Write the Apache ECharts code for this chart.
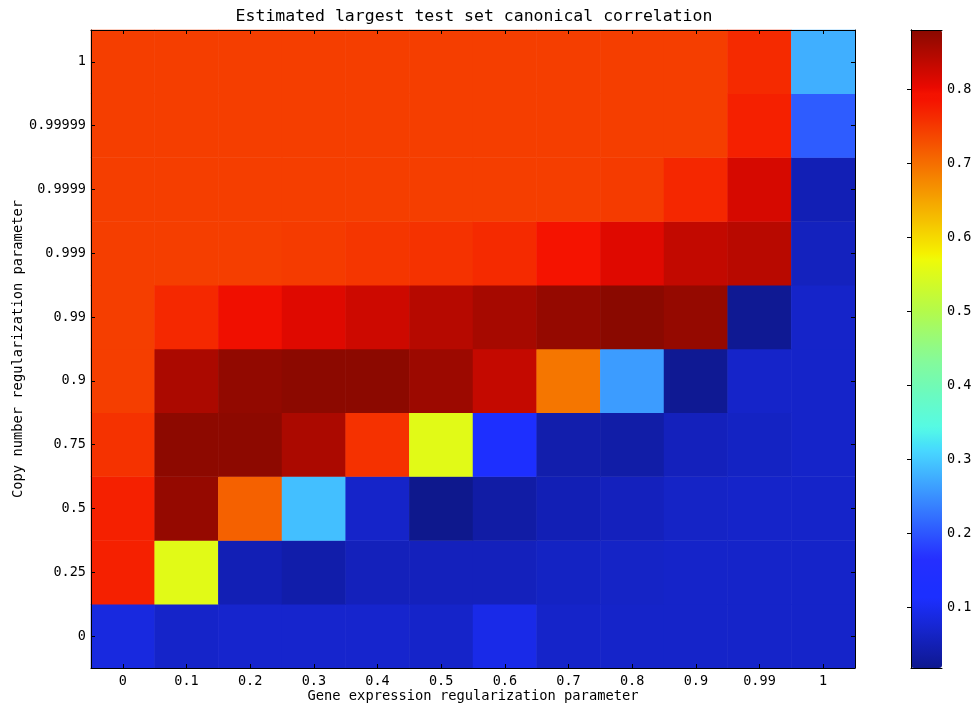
<!DOCTYPE html>
<html>
<head>
<meta charset="utf-8">
<script src="https://cdn.jsdelivr.net/npm/echarts@6/dist/echarts.min.js"></script>
<style>
html,body{margin:0;padding:0;background:#fff;}
#chart{width:973px;height:704px;}
</style>
</head>
<body>
<div id="chart"></div>
<script>
// Categories
const xLabels = ['0','0.1','0.2','0.3','0.4','0.5','0.6','0.7','0.8','0.9','0.99','1'];
const yLabels = ['0','0.25','0.5','0.75','0.9','0.99','0.999','0.9999','0.99999','1'];

// Values per copy-number parameter row (columns follow xLabels)
const row_0       = [0.085,0.066,0.070,0.070,0.070,0.066,0.093,0.066,0.066,0.066,0.066,0.066];
const row_0_25    = [0.772,0.555,0.050,0.040,0.055,0.056,0.056,0.062,0.064,0.066,0.066,0.066];
const row_0_5     = [0.772,0.871,0.712,0.290,0.066,0.018,0.036,0.050,0.057,0.064,0.066,0.066];
const row_0_75    = [0.756,0.877,0.877,0.853,0.757,0.555,0.130,0.042,0.038,0.056,0.062,0.066];
const row_0_9     = [0.745,0.853,0.873,0.878,0.878,0.865,0.833,0.693,0.260,0.022,0.066,0.066];
const row_0_99    = [0.745,0.765,0.797,0.811,0.826,0.844,0.857,0.871,0.880,0.871,0.022,0.066];
const row_0_999   = [0.745,0.745,0.745,0.748,0.752,0.756,0.764,0.785,0.811,0.834,0.843,0.058];
const row_0_9999  = [0.745,0.745,0.745,0.745,0.745,0.745,0.745,0.745,0.748,0.766,0.818,0.050];
const row_0_99999 = [0.745,0.745,0.745,0.745,0.745,0.745,0.745,0.745,0.745,0.745,0.772,0.205];
const row_1       = [0.745,0.745,0.745,0.745,0.745,0.745,0.745,0.745,0.745,0.745,0.764,0.277];

const colorbarTicks = [0.1,0.2,0.3,0.4,0.5,0.6,0.7,0.8];
const vMin = 0.018, vMax = 0.88;

const rows = [row_0,row_0_25,row_0_5,row_0_75,row_0_9,row_0_99,row_0_999,row_0_9999,row_0_99999,row_1];
const data = [];
rows.forEach((r, yi) => r.forEach((v, xi) => data.push([xi, yi, v])));

// "jet"-like colormap, tuned toward the reference rendering
function interp(t, xs, ys){
  for (let i = 1; i < xs.length; i++) {
    if (t <= xs[i]) { const f = (t - xs[i-1]) / (xs[i] - xs[i-1]); return ys[i-1] + f * (ys[i] - ys[i-1]); }
  }
  return ys[ys.length-1];
}
function jet(t){
  const r = interp(t,[0,0.35,0.66,0.89,1],[0,0,1,1,0.54]);
  const g = interp(t,[0,0.125,0.375,0.64,0.91,1],[0,0,1,1,0,0]);
  const b = interp(t,[0,0.11,0.34,0.65,1],[0.5,1,1,0,0]);
  const r2 = Math.min(r, 0.96) + (1 - r) * (0.11 * b + 0.2 * g * b);
  const g2 = Math.max(g, 0.19 * b) * 0.98 + (r > 0.5 && g < 0.05 ? 0.035 : 0);
  const b2 = b + 0.13 * (1 - b) * Math.max(0, Math.min(1, (b - 0.3) * 4));
  const h = x => Math.round(Math.max(0, Math.min(1, x)) * 255).toString(16).padStart(2,'0');
  return '#' + h(r2) + h(g2) + h(b2);
}
const jetColors = [];
for (let i = 0; i <= 200; i++) jetColors.push(jet(i/200));

const mono = 'DejaVu Sans Mono';
const black = '#000';

const chart = echarts.init(document.getElementById('chart'), null, {renderer:'canvas'});
chart.setOption({
  animation: false,
  backgroundColor: '#fff',
  graphic: [{
    type: 'text', x: 474, y: 17, z: 100,
    style: { text: 'Estimated largest test set canonical correlation', fontFamily: mono, fontSize: 16.5, fill: black, align: 'center', verticalAlign: 'middle' }
  }],
  grid: [
    { left: 91, top: 30, width: 764, height: 638, outerBoundsMode: 'none', containLabel: false },
    { left: 911, top: 30, width: 31, height: 638, outerBoundsMode: 'none', containLabel: false }
  ],
  xAxis: [
    { type: 'category', gridIndex: 0, data: xLabels, position: 'bottom', z: 10,
      axisLine: { show: true, lineStyle: { color: black, width: 1 } },
      axisTick: { show: true, inside: true, alignWithLabel: true, length: 4, lineStyle: { color: black } },
      axisLabel: { fontFamily: mono, fontSize: 13.5, color: black, margin: 6 },
      splitLine: { show: false },
      name: 'Gene expression regularization parameter', nameLocation: 'middle', nameGap: 21, nameMoveOverlap: false,
      nameTextStyle: { fontFamily: mono, fontSize: 13.75, color: black } },
    { type: 'category', gridIndex: 0, data: xLabels, position: 'top', z: 10,
      axisLine: { show: true, lineStyle: { color: black, width: 1 } },
      axisTick: { show: true, inside: true, alignWithLabel: true, length: 4, lineStyle: { color: black } },
      axisLabel: { show: false }, splitLine: { show: false } },
    { type: 'value', gridIndex: 1, position: 'bottom', min: 0, max: 1, z: 10,
      axisLine: { show: true, lineStyle: { color: black, width: 1 } },
      axisTick: { show: false }, axisLabel: { show: false }, splitLine: { show: false } },
    { type: 'value', gridIndex: 1, position: 'top', min: 0, max: 1, z: 10,
      axisLine: { show: true, lineStyle: { color: black, width: 1 } },
      axisTick: { show: false }, axisLabel: { show: false }, splitLine: { show: false } }
  ],
  yAxis: [
    { type: 'category', gridIndex: 0, data: yLabels, position: 'left', z: 10,
      axisLine: { show: true, lineStyle: { color: black, width: 1 } },
      axisTick: { show: true, inside: true, alignWithLabel: true, length: 4, lineStyle: { color: black } },
      axisLabel: { fontFamily: mono, fontSize: 13.5, color: black, margin: 5 },
      splitLine: { show: false },
      name: 'Copy number regularization parameter', nameLocation: 'middle', nameGap: 66, nameMoveOverlap: false,
      nameTextStyle: { fontFamily: mono, fontSize: 13.75, color: black } },
    { type: 'category', gridIndex: 0, data: yLabels, position: 'right', z: 10,
      axisLine: { show: true, lineStyle: { color: black, width: 1 } },
      axisTick: { show: true, inside: true, alignWithLabel: true, length: 4, lineStyle: { color: black } },
      axisLabel: { show: false }, splitLine: { show: false } },
    { type: 'value', gridIndex: 1, position: 'right', min: vMin, max: vMax, z: 10,
      axisLine: { show: true, lineStyle: { color: black, width: 1 } },
      axisTick: { show: true, inside: true, length: 4, lineStyle: { color: black }, customValues: colorbarTicks },
      axisLabel: { fontFamily: mono, fontSize: 13.5, color: black, margin: 5, customValues: colorbarTicks,
                   formatter: v => v.toFixed(1) },
      splitLine: { show: false } },
    { type: 'value', gridIndex: 1, position: 'left', min: vMin, max: vMax, z: 10,
      axisLine: { show: true, lineStyle: { color: black, width: 1 } },
      axisTick: { show: false }, axisLabel: { show: false }, splitLine: { show: false } }
  ],
  visualMap: {
    type: 'continuous', min: vMin, max: vMax, seriesIndex: 0,
    left: 911, top: 30, itemWidth: 31, itemHeight: 638, padding: 0,
    calculable: false, hoverLink: false, text: null, showLabel: false,
    inRange: { color: jetColors }
  },
  series: [{
    type: 'heatmap', xAxisIndex: 0, yAxisIndex: 0, data: data,
    itemStyle: { borderWidth: 0 },
    emphasis: { disabled: true },
    progressive: 0
  }]
});
</script>
</body>
</html>
